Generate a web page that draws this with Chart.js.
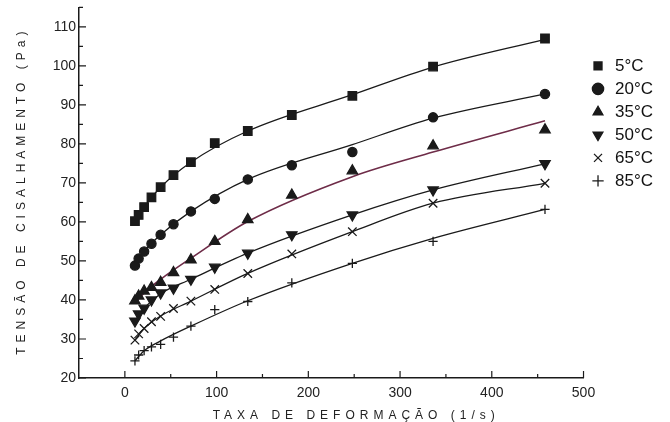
<!DOCTYPE html>
<html>
<head>
<meta charset="utf-8">
<script src="https://cdn.jsdelivr.net/npm/chart.js@4.4.1/dist/chart.umd.min.js"></script>
<style>
  html, body { margin: 0; padding: 0; background: #fff; }
  #wrap { width: 670px; height: 422px; position: relative; }
</style>
</head>
<body>
<div id="wrap"><canvas id="rheoChart"></canvas></div>
<script>
// shear rate (1/s) of the measured points
const rates = [11, 15, 21, 29, 39, 53, 72, 98, 134, 182, 248, 336, 458];

// measured shear stress (Pa)
const t5  = [60.2, 61.8, 63.8, 66.3, 68.9, 72.0, 75.3, 80.2, 83.3, 87.4, 92.3, 99.8, 107.0];
const t20 = [48.8, 50.6, 52.4, 54.4, 56.7, 59.4, 62.7, 65.9, 70.9, 74.5, 77.9, 86.8, 92.8];
const t35 = [39.8, 41.0, 42.3, 43.2, 44.5, 47.0, 50.3, 55.0, 60.6, 66.9, 73.1, 79.5, 83.6];
const t50 = [34.6, 36.4, 37.9, 40.0, 41.8, 43.0, 45.3, 48.4, 52.0, 56.7, 61.8, 68.2, 74.9];
const t65 = [29.7, 31.3, 32.7, 34.4, 35.8, 37.8, 39.7, 42.7, 46.8, 51.8, 57.5, 64.8, 69.9];
const t85 = [24.4, 25.9, 27.0, 28.0, 28.6, 30.5, 33.3, 37.5, 39.6, 44.4, 49.4, 55.0, 63.2];

// fitted curves
const fitRates = [11, 21, 39, 72, 134, 248, 336, 458];
const fit5  = [60.2, 63.8, 68.9, 75.3, 83.3, 92.6, 99.7, 106.8];
const fit20 = [48.8, 52.4, 56.7, 62.7, 70.9, 79.8, 86.6, 92.8];
const fit35 = [39.2, 41.8, 45.3, 50.7, 60.1, 71.6, 77.9, 85.9];
const fit50 = [34.6, 37.9, 41.6, 45.3, 52.0, 61.8, 68.2, 74.9];
const fit65 = [29.7, 32.7, 35.9, 39.7, 46.8, 57.5, 64.8, 69.9];
const fit85 = [24.4, 27.0, 29.5, 33.3, 39.8, 49.4, 55.8, 63.2];

const labels = ['5°C', '20°C', '35°C', '50°C', '65°C', '85°C'];
const xTicks = [0, 100, 200, 300, 400, 500];
const xMinor = [50, 150, 250, 350, 450];
const yTicks = [20, 30, 40, 50, 60, 70, 80, 90, 100, 110];
const yMinor = [25, 35, 45, 55, 65, 75, 85, 95, 105, 115];

const xTitle = 'TAXA DE DEFORMAÇÃO (1/s)';
const yTitle = 'TENSÃO DE CISALHAMENTO (Pa)';

const ink = '#1a1a1a';
const font = 'Liberation Sans';

const pts = (ys) => rates.map((r, i) => ({ x: r, y: ys[i] }));
const fitPts = (ys) => fitRates.map((r, i) => ({ x: r, y: ys[i] }));

const markers = [
    { style: 'rect', radius: 6, rotation: 0 },
    { style: 'circle', radius: 4.6, rotation: 0 },
    { style: 'triangle', radius: 6, rotation: 0 },
    { style: 'triangle', radius: 6, rotation: 180 },
    { style: 'crossRot', radius: 6, rotation: 0 },
    { style: 'cross', radius: 4.6, rotation: 0 }
];

const measured = [t5, t20, t35, t50, t65, t85];
const fitted = [fit5, fit20, fit35, fit50, fit65, fit85];

const datasets = [];
measured.forEach((ys, i) => {
    datasets.push({
        label: labels[i],
        data: pts(ys),
        showLine: false,
        pointStyle: markers[i].style,
        pointRadius: markers[i].radius,
        rotation: markers[i].rotation,
        pointBackgroundColor: ink,
        pointBorderColor: ink,
        pointBorderWidth: 1.3
    });
});
fitted.forEach((ys, i) => {
    datasets.push({
        label: 'fit ' + labels[i],
        data: fitPts(ys),
        showLine: true,
        pointRadius: 0,
        borderColor: i === 2 ? '#6e2c48' : ink,
        borderWidth: i === 2 ? 1.6 : 1.3,
        cubicInterpolationMode: 'monotone'
    });
});

// inside tick marks and the spaced axis titles
const axisDecor = {
    id: 'axisDecor',
    afterDraw(chart) {
        const { ctx, scales: { x, y } } = chart;
        const bottom = y.getPixelForValue(20);
        const left = x.getPixelForValue(-50);
        ctx.save();
        ctx.strokeStyle = ink;
        ctx.lineWidth = 1.2;
        ctx.beginPath();
        xTicks.forEach(v => { const px = x.getPixelForValue(v); ctx.moveTo(px, bottom); ctx.lineTo(px, bottom - 7); });
        xMinor.forEach(v => { const px = x.getPixelForValue(v); ctx.moveTo(px, bottom); ctx.lineTo(px, bottom - 4); });
        yTicks.forEach(v => { const py = y.getPixelForValue(v); ctx.moveTo(left, py); ctx.lineTo(left + 7, py); });
        yMinor.forEach(v => { const py = y.getPixelForValue(v); ctx.moveTo(left, py); ctx.lineTo(left + 4, py); });
        ctx.stroke();

        ctx.fillStyle = '#222';
        ctx.font = '12px "' + font + '"';
        ctx.letterSpacing = '5px';
        ctx.textAlign = 'center';
        ctx.textBaseline = 'middle';
        const xc = (x.getPixelForValue(0) + x.getPixelForValue(500)) / 2;
        ctx.fillText(xTitle, xc + 2, 416);
        ctx.translate(22, (y.getPixelForValue(20) + y.getPixelForValue(115)) / 2);
        ctx.rotate(-Math.PI / 2);
        ctx.fillText(yTitle, 2, 0);
        ctx.restore();
    }
};

const ctx = document.getElementById('rheoChart').getContext('2d');
new Chart(ctx, {
    type: 'scatter',
    data: { datasets },
    options: {
        responsive: true,
        maintainAspectRatio: false,
        animation: false,
        layout: { padding: { top: 7, right: 7, left: 0, bottom: 0 } },
        plugins: {
            tooltip: { enabled: false },
            legend: {
                position: 'right',
                align: 'start',
                title: { display: true, text: ' ', padding: { top: 30, bottom: 0 } },
                labels: {
                    filter: item => item.datasetIndex < 6,
                    usePointStyle: true,
                    boxWidth: 17,
                    boxHeight: 8,
                    padding: 6,
                    color: '#111',
                    font: { family: font, size: 17 }
                }
            }
        },
        scales: {
            x: {
                type: 'linear',
                min: -50,
                max: 500,
                afterBuildTicks: s => { s.ticks = xTicks.map(v => ({ value: v })); },
                afterFit: s => { s.height = 44; },
                grid: { display: false, drawTicks: false },
                border: { display: true, color: ink, width: 1.5 },
                ticks: { color: '#222', padding: 7, font: { family: font, size: 14 } }
            },
            y: {
                type: 'linear',
                min: 20,
                max: 115,
                afterBuildTicks: s => { s.ticks = yTicks.map(v => ({ value: v })); },
                afterFit: s => { s.width = 79; s.paddingTop = 0; s.paddingBottom = 0; },
                grid: { display: false, drawTicks: false },
                border: { display: true, color: ink, width: 1.5 },
                ticks: { color: '#222', padding: 3, font: { family: font, size: 14 } }
            }
        }
    },
    plugins: [axisDecor]
});
</script>
</body>
</html>
